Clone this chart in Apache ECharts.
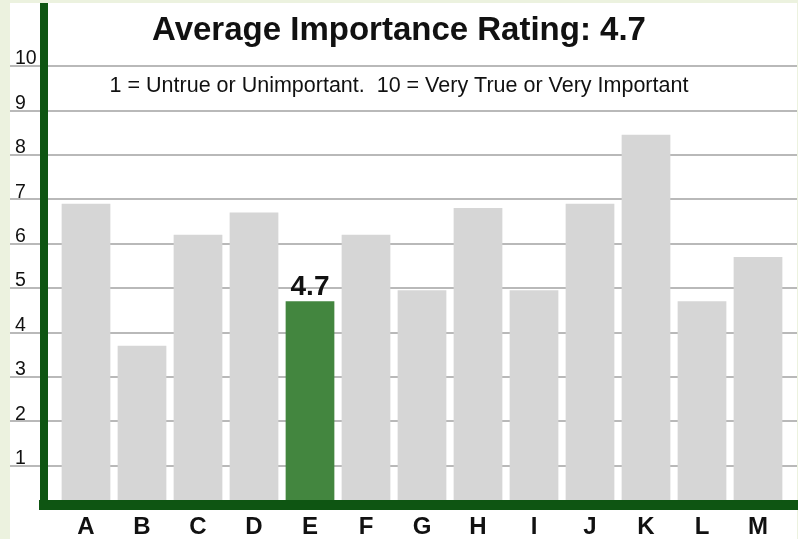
<!DOCTYPE html>
<html>
<head>
<meta charset="utf-8">
<script src="https://cdn.jsdelivr.net/npm/echarts@6/dist/echarts.min.js"></script>
<style>
  html, body { margin: 0; padding: 0; }
  #wrap { position: relative; width: 798px; height: 539px; background: #ecf2df; overflow: hidden; }
  #paper { position: absolute; left: 10px; top: 3px; right: 1px; bottom: 0; background: #ffffff; }
  #chart { position: absolute; left: 0; top: 0; width: 798px; height: 539px; }
</style>
</head>
<body>
<div id="wrap"><div id="paper"></div><div id="chart"></div></div>
<script>
const categories = ['A', 'B', 'C', 'D', 'E', 'F', 'G', 'H', 'I', 'J', 'K', 'L', 'M'];
const values = [6.9, 3.7, 6.2, 6.7, 4.7, 6.2, 4.95, 6.8, 4.95, 6.9, 8.45, 4.7, 5.7];
const highlightCategory = 'E';
const averageRating = 4.7;
const yMin = 0;
const yMax = 10;
const yInterval = 1;
const titleText = 'Average Importance Rating: ' + averageRating;
const subtitleText = '1 = Untrue or Unimportant.  10 = Very True or Very Important';

const FONT = '"Liberation Sans", Arial, Helvetica, sans-serif';
const chart = echarts.init(document.getElementById('chart'), null, { renderer: 'canvas' });

const barData = values.map(function (v, i) {
  const hi = categories[i] === highlightCategory;
  return {
    value: v,
    itemStyle: { color: hi ? '#43863f' : '#d6d6d6' },
    label: hi ? {
      show: true, position: 'top', distance: 0,
      formatter: String(averageRating),
      fontFamily: FONT, fontWeight: 'bold', fontSize: 28, color: '#111111'
    } : { show: false }
  };
});

chart.setOption({
  backgroundColor: 'transparent',
  animation: false,
  title: [
    {
      text: titleText, left: 'center', top: 14, padding: 0,
      textStyle: { fontFamily: FONT, fontWeight: 'bold', fontSize: 33, color: '#111111' }
    },
    {
      text: subtitleText, left: 'center', top: 75, padding: 0,
      textStyle: { fontFamily: FONT, fontWeight: 'normal', fontSize: 21.5, color: '#111111' }
    }
  ],
  grid: [
    { left: 58, right: 12, top: 66, bottom: 29 },   // bars
    { left: 10, right: 1, top: 66, bottom: 29 },    // gridlines
    { left: 44, right: 1, top: 7, bottom: 34 }      // green frame
  ],
  xAxis: [
    {
      gridIndex: 0, type: 'category', data: categories,
      axisLine: { show: false }, axisTick: { show: false },
      axisLabel: { margin: 5, fontFamily: FONT, fontWeight: 'bold', fontSize: 24, color: '#111111' }
    },
    {
      gridIndex: 1, type: 'value', min: 0, max: 1,
      axisLine: { show: false }, axisTick: { show: false }, axisLabel: { show: false }, splitLine: { show: false }
    },
    {
      gridIndex: 2, type: 'value', min: 0, max: 1, z: 10,
      axisLine: { show: true, lineStyle: { color: '#0e5512', width: 10, cap: 'square' } },
      axisTick: { show: false }, axisLabel: { show: false }, splitLine: { show: false }
    }
  ],
  yAxis: [
    {
      gridIndex: 0, type: 'value', min: yMin, max: yMax,
      axisLine: { show: false }, axisTick: { show: false }, axisLabel: { show: false }, splitLine: { show: false }
    },
    {
      gridIndex: 1, type: 'value', min: yMin, max: yMax, interval: yInterval,
      axisLine: { show: false }, axisTick: { show: false },
      axisLabel: {
        inside: true, margin: 5, verticalAlign: 'bottom', lineHeight: 14,
        fontFamily: FONT, fontSize: 19.5, color: '#111111',
        formatter: function (v) { return v === 0 ? '' : String(v); }
      },
      splitLine: { show: true, showMinLine: false, lineStyle: { color: '#b9b9b9', width: 2 } }
    },
    {
      gridIndex: 2, type: 'value', min: 0, max: 1, z: 10,
      axisLine: { show: true, lineStyle: { color: '#0e5512', width: 8, cap: 'square' } },
      axisTick: { show: false }, axisLabel: { show: false }, splitLine: { show: false }
    }
  ],
  series: [
    {
      type: 'bar', xAxisIndex: 0, yAxisIndex: 0,
      data: barData,
      barCategoryGap: '13%',
      z: 2
    }
  ]
});
</script>
</body>
</html>
